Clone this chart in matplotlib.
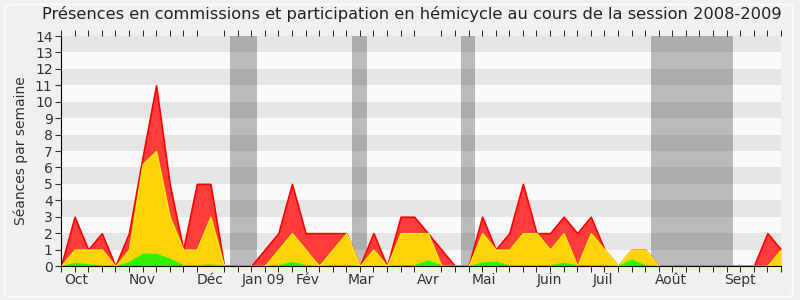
import matplotlib.pyplot as plt
import numpy as np
from matplotlib.patches import FancyBboxPatch

# --- Data (one point per week, session 2008-2009) ---
total = [0, 3, 1, 2, 0, 2, 6.6, 11, 5, 1, 5, 5, 0, 0, 0, 1, 2, 5, 2, 2,
         2, 2, 0, 2, 0, 3, 3, 2, 1, 0, 0, 3, 1, 2, 5, 2, 2, 3, 2, 3,
         1, 0, 1, 1, 0, 0, 0, 0, 0, 0, 0, 0, 2, 1]
commission = [0, 1, 1, 1, 0, 1, 6.2, 7, 3, 1, 1, 3, 0, 0, 0, 0, 1, 2, 1, 0,
              1, 2, 0, 1, 0, 2, 2, 2, 0, 0, 0, 2, 1, 1, 2, 2, 1, 2, 0, 2,
              1, 0, 1, 1, 0, 0, 0, 0, 0, 0, 0, 0, 0, 1]
median = [0, 0.2, 0.1, 0.05, 0, 0.25, 0.75, 0.75, 0.45, 0.05, 0.05, 0.1, 0, 0, 0, 0, 0.05, 0.25, 0.05, 0,
          0.05, 0.05, 0, 0, 0, 0.05, 0.05, 0.35, 0.05, 0, 0, 0.22, 0.27, 0.05, 0.05, 0.05, 0.05, 0.2, 0.05, 0.05,
          0.05, 0, 0.4, 0.05, 0, 0, 0, 0, 0, 0, 0, 0, 0, 0]

# vacation periods, in weeks from session start
vacations = [(12.42, 14.46), (21.39, 22.51), (29.44, 30.47), (43.44, 49.46)]

month_labels = ["Oct", "Nov", "Déc", "Jan 09", "Fév", "Mar", "Avr", "Mai",
                "Juin", "Juil", "Août", "Sept"]
month_pos = [1.12, 5.95, 11.0, 14.87, 18.14, 22.07, 27.0, 31.13, 35.92, 39.92, 44.89, 49.95]

weeks = np.arange(len(total))

# --- Figure ---
fig = plt.figure(figsize=(8, 3), dpi=100, facecolor="#f0f0f0")
fig.patches.append(FancyBboxPatch((0.006, 0.01), 0.985, 0.975, boxstyle="round,pad=0,rounding_size=0.01",
                                  transform=fig.transFigure, facecolor="#f0f0f0",
                                  edgecolor="#fafafa", linewidth=1.5, zorder=-1))
ax = fig.add_axes([0.07625, 0.1133, 0.9, 0.7667])
ax.set_facecolor("#fafafa")

# horizontal stripes
for k in range(1, 14, 2):
    ax.axhspan(k, k + 1, color="#e6e6e6", zorder=0, linewidth=0)

# vacation bands
for a, b in vacations:
    ax.axvspan(a, b, color="black", alpha=0.25, zorder=1, linewidth=0)

ax.fill_between(weeks, total, color="#ff3c3c", edgecolor="#ff0000", linewidth=1.2, zorder=2)
ax.fill_between(weeks, commission, color="#ffd20a", edgecolor="#ffee00", linewidth=1.0, zorder=3)
ax.fill_between(weeks, median, color="#33ee00", edgecolor="#22ff00", linewidth=0.8, zorder=4)

ax.set_xlim(0, 53)
ax.set_ylim(0, 14)
ax.set_yticks(range(0, 15))
ax.tick_params(axis="y", direction="out", length=4, labelsize=10, colors="#333333", pad=2)
ax.set_xticks(month_pos)
ax.set_xticklabels(month_labels)
ax.tick_params(axis="x", which="major", length=0, labelsize=10, colors="#333333", pad=5)
ax.set_xticks(weeks, minor=True)
ax.tick_params(axis="x", which="minor", direction="out", length=4, color="black",
               top=True, bottom=True)

for s in ["top", "right"]:
    ax.spines[s].set_visible(False)
for s in ["left", "bottom"]:
    ax.spines[s].set_color("black")
    ax.spines[s].set_zorder(6)

ax.set_ylabel("Séances par semaine", fontsize=10, color="#333333", labelpad=5)
fig.text(0.515, 0.955, "Présences en commissions et participation en hémicycle au cours de la session 2008-2009",
         ha="center", va="center", fontsize=11.7, color="#222222")

plt.savefig("out.png", dpi=100, facecolor=fig.get_facecolor())
